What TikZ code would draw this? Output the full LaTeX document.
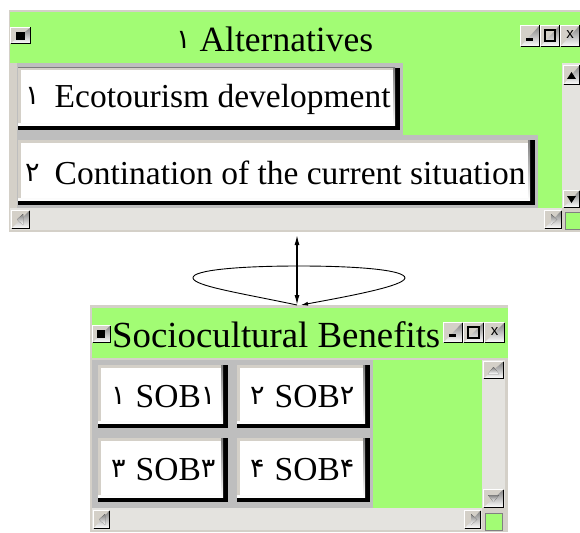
\documentclass[tikz,border=0pt]{standalone}
\usepackage{fontspec}
\setmainfont{Liberation Serif}
\setsansfont{Liberation Sans}
\newfontfamily\arabicfont[Script=Arabic]{DejaVu Sans}
\usepackage{tikz}
\usetikzlibrary{calc,arrows.meta}
\definecolor{frame}{HTML}{D4D0C8}
\definecolor{panel}{HTML}{BEBEBE}
\definecolor{lime}{HTML}{A2FC74}
\definecolor{track}{HTML}{E4E3DF}
\definecolor{shade}{HTML}{808080}
\tikzset{
  win/.style={fill=frame, inner sep=0pt, outer sep=0pt, anchor=north west},
  ttl/.style={font=\fontsize{35.5}{40}\selectfont, anchor=west, inner sep=0pt},
  lbl/.style={font=\fontsize{33.5}{38}\selectfont, anchor=west, inner sep=0pt},
  ctl/.style={font=\sffamily\fontsize{15}{16}\selectfont, inner sep=0pt},
  link/.style={draw=black, line width=1.3pt},
  loop/.style={draw=black, line width=0.9pt},
}
\newcommand{\dg}[1]{\raisebox{3pt}{\arabicfont\fontsize{27}{30}\selectfont #1}}
% raised grey box (scroll arrows, title buttons)
\newcommand{\winbtn}[4]{%
  \fill[frame] (#1,#2) rectangle (#3,#4);
  \draw[white, line width=1pt] (#1+0.5,#4-1) |- (#3-1,#2+0.5);
  \draw[shade, line width=1pt] (#1+0.5,#4-0.5) -| (#3-0.5,#2+0.5);
}
% white push button with heavy shadow: name, x1, y1, x2, y2, text indent, text
\newcommand{\btn}[7]{%
  \fill[black] (#2,#3) rectangle (#4,#5);
  \fill[shade] (#2,#3) rectangle (#4-5,#5-5);
  \fill[white] (#2,#3) rectangle (#4-7,#5-7);
  \draw[frame, line width=2.5pt] (#2+1.25,#5-7) |- (#4-7,#3+1.25);
  \node[lbl] (#1) at (#2+#6,{(#3+#5)/2}) {#7};
}

\begin{document}
\begin{tikzpicture}[x=1pt, y=-1pt]
  \useasboundingbox (0,0) rectangle (580,532);
  \fill[white] (0,0) rectangle (580,532);

  % Alternatives window
  \node[win, minimum width=571pt, minimum height=222pt] (alt) at (9,10) {};
  \fill[lime] (10,12) rectangle (580,63);
  \fill[lime] (17,63) rectangle (562,208);
  \fill[panel] (17,63) rectangle (403,135);
  \fill[panel] (17,135) rectangle (538,208);
  \fill[track] (562,63) rectangle (580,208);
  \winbtn{563}{65}{580}{85}
  \winbtn{563}{190}{580}{208}
  \fill[black] (567,79) -- (576,79) -- (571.5,72) -- cycle;
  \fill[black] (567,196) -- (576,196) -- (571.5,203) -- cycle;
  \fill[track] (10,208) rectangle (562,230);
  \winbtn{11}{210}{30}{229}
  \winbtn{544}{210}{562}{229}
  \fill[shade] (23,214) -- (23,225) -- (17,219.5) -- cycle;
  \fill[shade] (551,214) -- (551,225) -- (557,219.5) -- cycle;
  \fill[lime, draw=shade] (565,212) rectangle (580,229);
  \winbtn{10}{27}{31}{44}
  \fill[black] (16,32) rectangle (25,40);
  \winbtn{520}{25}{540}{47}
  \winbtn{540}{25}{560}{47}
  \winbtn{560}{25}{580}{47}
  \fill[black] (526,38) rectangle (533,41);
  \draw[black, line width=1.2pt] (545,30) rectangle (555,41);
  \node[ctl] (altx) at (570,35) {x};
  \node[ttl] (altttl) at (176,39) {\dg{۱}\ Alternatives};
  \btn{eco}{18}{68}{400}{130}{7}{\dg{۱}\hspace{15pt}Ecotourism development}
  \btn{cont}{18}{140}{535}{205}{7}{\dg{۲}\hspace{15pt}Contination of the current situation}

  % Sociocultural Benefits window
  \node[win, minimum width=418pt, minimum height=227pt] (soc) at (90,305) {};
  \fill[lime] (92,308) rectangle (508,358);
  \fill[panel] (92,360) rectangle (373,508);
  \fill[lime] (373,360) rectangle (482,508);
  \fill[track] (482,360) rectangle (505,508);
  \winbtn{483}{361}{504}{379}
  \winbtn{483}{489}{504}{508}
  \fill[shade] (488,374) -- (499,374) -- (493.5,367) -- cycle;
  \fill[shade] (488,495) -- (499,495) -- (493.5,502) -- cycle;
  \fill[track] (92,508) rectangle (482,530);
  \winbtn{93}{510}{110}{529}
  \winbtn{464}{510}{481}{529}
  \fill[shade] (105,514) -- (105,525) -- (99,519.5) -- cycle;
  \fill[shade] (471,514) -- (471,525) -- (477,519.5) -- cycle;
  \fill[lime, draw=shade] (485,513) rectangle (502,530);
  \winbtn{92}{325}{111}{343}
  \fill[black] (97,330) rectangle (105,338);
  \winbtn{443}{322}{463}{343}
  \winbtn{463}{322}{484}{343}
  \winbtn{484}{322}{505}{343}
  \fill[black] (449,334) rectangle (456,337);
  \draw[black, line width=1.2pt] (468,327) rectangle (479,338);
  \node[ctl] (socx) at (494.5,331.5) {x};
  \node[ttl, font=\fontsize{36.8}{40}\selectfont] (socttl) at (112,335) {Sociocultural Benefits};
  \btn{sob1}{98}{365}{228}{428}{13}{\dg{۱}\hspace{10pt}SOB\dg{۱}}
  \btn{sob2}{237}{365}{370}{428}{13}{\dg{۲}\hspace{10pt}SOB\dg{۲}}
  \btn{sob3}{98}{438}{228}{502}{13}{\dg{۳}\hspace{10pt}SOB\dg{۳}}
  \btn{sob4}{237}{438}{370}{502}{13}{\dg{۴}\hspace{10pt}SOB\dg{۴}}

  % connectors
  \coordinate (mid) at (297,0);
  \draw[link, {Latex[length=10pt,width=5pt]}-{Latex[length=10pt,width=5pt]}]
    ([yshift=-3pt]alt.south -| mid) -- (soc.north -| mid);
  \draw[loop, -{Latex[length=7pt,width=4pt]}] (soc.north -| mid)
    .. controls (240,293) and (194,286) .. (193,278)
    .. controls (192,270) and (240,266) .. (299,266)
    .. controls (358,266) and (405,270) .. (405,278)
    .. controls (404,286) and (350,296) .. ([xshift=4pt]soc.north -| mid);
\end{tikzpicture}
\end{document}
